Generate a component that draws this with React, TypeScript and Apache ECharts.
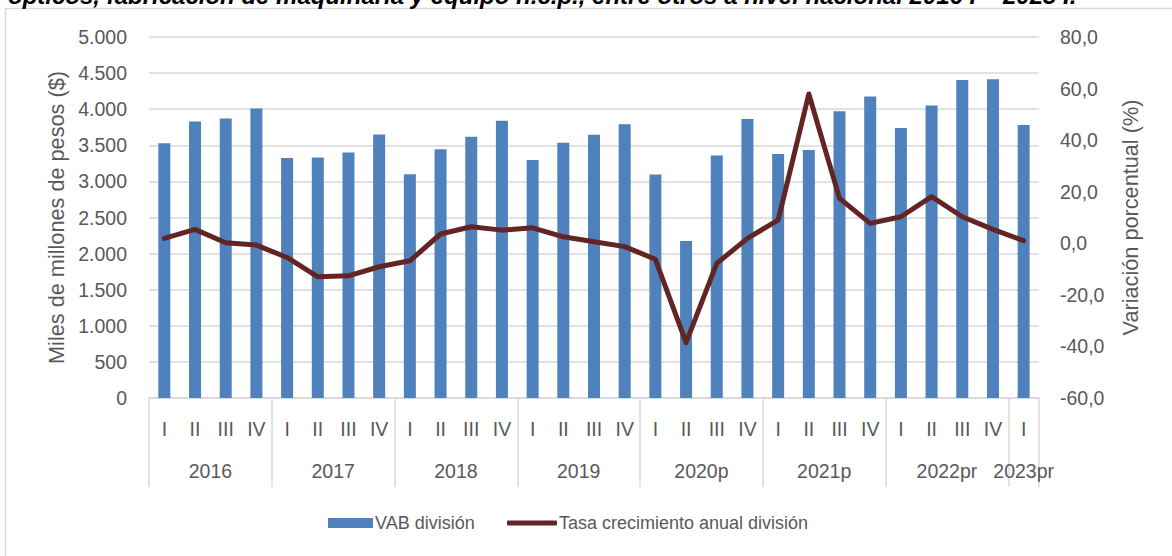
import React, { useEffect, useRef } from "react";
import * as echarts from "echarts";

const quarters = [
  "I", "II", "III", "IV",
  "I", "II", "III", "IV",
  "I", "II", "III", "IV",
  "I", "II", "III", "IV",
  "I", "II", "III", "IV",
  "I", "II", "III", "IV",
  "I", "II", "III", "IV",
  "I",
];
const years = ["2016", "2017", "2018", "2019", "2020p", "2021p", "2022pr", "2023pr"];
const quartersPerYear = [4, 4, 4, 4, 4, 4, 4, 1];

const vab = [
  3530, 3830, 3870, 4010,
  3325, 3330, 3400, 3650,
  3100, 3445, 3620, 3840,
  3295, 3535, 3645, 3790,
  3095, 2175, 3360, 3865,
  3380, 3435, 3970, 4175,
  3740, 4050, 4405, 4415,
  3780,
];
const tasa = [
  1.9, 5.4, 0.2, -0.7,
  -5.5, -13.0, -12.6, -9.1,
  -6.8, 3.6, 6.4, 5.1,
  6.0, 2.5, 0.6, -1.3,
  -6.2, -38.5, -7.8, 1.9,
  9.0, 57.9, 17.4, 7.7,
  10.3, 18.1, 10.3, 5.4,
  1.0,
];

const leftTicks = [0, 500, 1000, 1500, 2000, 2500, 3000, 3500, 4000, 4500, 5000];
const rightTicks = [-60, -40, -20, 0, 20, 40, 60, 80];

const titleText =
  "ópticos, fabricación de maquinaria y equipo n.c.p., entre otros a nivel nacional 2016 I – 2023 I.";

const FONT = "'Liberation Sans', Arial, sans-serif";
const GREY = "#595959";
const LINE_GREY = "#d9d9d9";

export default function App() {
  const ref = useRef<HTMLDivElement>(null);

  useEffect(() => {
    if (!ref.current) return;
    const chart = echarts.init(ref.current, null, { renderer: "svg" });

    const boundaries: number[] = [0];
    const centers: number[] = [];
    let acc = 0;
    quartersPerYear.forEach((n) => {
      centers.push(acc + n / 2);
      acc += n;
      boundaries.push(acc);
    });
    const yearFor = (v: number) => {
      const i = centers.findIndex((c) => Math.abs(c - v) < 1e-6);
      return i >= 0 ? years[i] : "";
    };

    chart.setOption({
      animation: false,
      backgroundColor: "#ffffff",
      textStyle: { fontFamily: FONT },
      graphic: [
        {
          type: "rect",
          shape: { x: 5.5, y: 8.5, width: 1180, height: 600 },
          style: { fill: "none", stroke: LINE_GREY, lineWidth: 1.5 },
          silent: true,
        },
        {
          type: "text",
          x: 8,
          y: 7,
          style: {
            text: titleText,
            font: "italic bold 24px 'Liberation Sans', Arial, sans-serif",
            fill: "#000000",
            verticalAlign: "bottom",
          },
          silent: true,
        },
      ],
      grid: { left: 149, right: 133, top: 37, bottom: 158, containLabel: false },
      legend: [
        {
          data: [{ name: "VAB división", icon: "rect" }],
          left: 323,
          top: 509,
          itemWidth: 45,
          itemHeight: 10,
          itemGap: 4,
          textStyle: { color: GREY, fontSize: 18, fontFamily: FONT, padding: [0, 0, 0, -3] },
        },
        {
          data: [{ name: "Tasa crecimiento anual división", icon: "roundRect" }],
          left: 502,
          top: 509,
          itemWidth: 50,
          itemHeight: 5,
          textStyle: { color: GREY, fontSize: 18, fontFamily: FONT, padding: [0, 0, 0, -3] },
        },
      ],
      xAxis: [
        {
          type: "category",
          data: quarters,
          position: "bottom",
          axisLine: { show: true, onZero: false, lineStyle: { color: LINE_GREY, width: 1.5 } },
          axisTick: { show: false },
          axisLabel: { color: GREY, fontSize: 19.5, margin: 21, interval: 0 },
          splitLine: { show: false },
        },
        {
          type: "value",
          min: 0,
          max: quarters.length,
          position: "bottom",
          axisLine: { show: false, onZero: false },
          splitLine: { show: false },
          axisTick: {
            show: true,
            inside: false,
            customValues: boundaries,
            length: 89,
            lineStyle: { color: LINE_GREY, width: 1.5 },
          },
          axisLabel: {
            customValues: centers,
            formatter: (v: number) => yearFor(v),
            color: GREY,
            fontSize: 19.5,
            margin: 63,
          },
        },
      ],
      yAxis: [
        {
          type: "value",
          min: leftTicks[0],
          max: leftTicks[leftTicks.length - 1],
          interval: 500,
          name: "Miles de millones de pesos ($)",
          nameLocation: "middle",
          nameRotate: 90,
          nameGap: 80,
          nameTextStyle: { color: GREY, fontSize: 21.7, fontFamily: FONT },
          axisLine: { show: false },
          axisTick: { show: false },
          axisLabel: {
            color: GREY,
            fontSize: 19.5,
            margin: 22,
            formatter: (v: number) => v.toLocaleString("de-DE"),
          },
          splitLine: { show: true, lineStyle: { color: LINE_GREY, width: 1.5 } },
        },
        {
          type: "value",
          min: rightTicks[0],
          max: rightTicks[rightTicks.length - 1],
          interval: 20,
          name: "Variación porcentual (%)",
          nameLocation: "middle",
          nameRotate: 90,
          nameGap: 80,
          nameTextStyle: { color: GREY, fontSize: 21.7, fontFamily: FONT },
          axisLine: { show: false },
          axisTick: { show: false },
          axisLabel: {
            color: GREY,
            fontSize: 19.5,
            margin: 21,
            formatter: (v: number) => v.toFixed(1).replace(".", ","),
          },
          splitLine: { show: false },
        },
      ],
      series: [
        {
          name: "VAB división",
          type: "bar",
          xAxisIndex: 0,
          yAxisIndex: 0,
          data: vab,
          barWidth: 12,
          itemStyle: { color: "#4f81bd" },
        },
        {
          name: "Tasa crecimiento anual división",
          type: "line",
          xAxisIndex: 0,
          yAxisIndex: 1,
          data: tasa,
          symbol: "none",
          showSymbol: false,
          lineStyle: { color: "#632523", width: 5, cap: "round", join: "round" },
          itemStyle: { color: "#632523" },
        },
      ],
    });

    return () => chart.dispose();
  }, []);

  return (
    <div
      ref={ref}
      style={{ position: "absolute", left: 0, top: 0, width: 1172, height: 556 }}
    />
  );
}
